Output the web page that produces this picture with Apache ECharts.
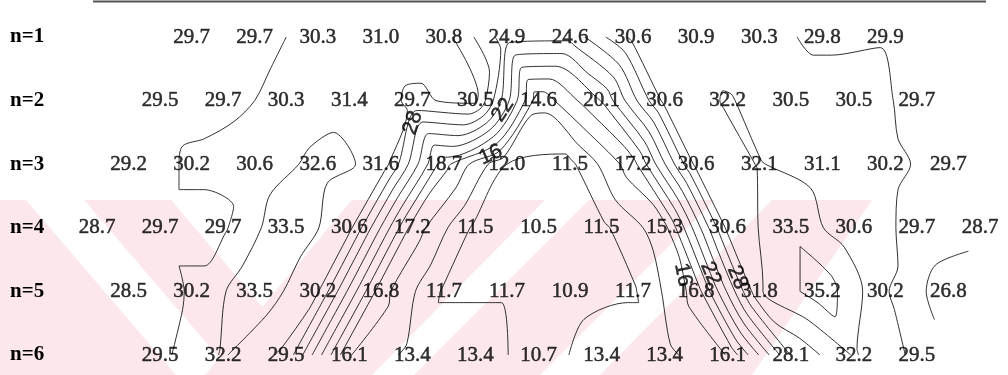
<!DOCTYPE html>
<html>
<head>
<meta charset="utf-8">
<script src="https://cdn.jsdelivr.net/npm/echarts@6.0.0/dist/echarts.min.js"></script>
<style>
  html, body { margin: 0; padding: 0; background: #ffffff; }
  #chart { width: 1008px; height: 375px; }
</style>
</head>
<body>
<div id="chart"></div>
<script>
// Measured values along each row n=1..6, left to right
const row1 = [29.7, 29.7, 30.3, 31.0, 30.8, 24.9, 24.6, 30.6, 30.9, 30.3, 29.8, 29.9];
const row2 = [29.5, 29.7, 30.3, 31.4, 29.7, 30.5, 14.6, 20.1, 30.6, 32.2, 30.5, 30.5, 29.7];
const row3 = [29.2, 30.2, 30.6, 32.6, 31.6, 18.7, 12.0, 11.5, 17.2, 30.6, 32.1, 31.1, 30.2, 29.7];
const row4 = [28.7, 29.7, 29.7, 33.5, 30.6, 17.2, 11.5, 10.5, 11.5, 15.3, 30.6, 33.5, 30.6, 29.7, 28.7];
const row5 = [28.5, 30.2, 33.5, 30.2, 16.8, 11.7, 11.7, 10.9, 11.7, 16.8, 31.8, 35.2, 30.2, 26.8];
const row6 = [29.5, 32.2, 29.5, 16.1, 13.4, 13.4, 10.7, 13.4, 13.4, 16.1, 28.1, 32.2, 29.5];
// Column index of the first value in each row (rows are staggered by half a column)
const rowFirstColumn = [1.5, 1, 0.5, 0, 0.5, 1];
const rowLabels = ['n=1', 'n=2', 'n=3', 'n=4', 'n=5', 'n=6'];
// Contour levels (every 2 units) and the ones carrying a number
const contourLevels = [12, 14, 16, 18, 20, 22, 24, 26, 28, 30, 32, 34];
const labelledLevels = [16, 22, 28];

const rows = [row1, row2, row3, row4, row5, row6];

// ---- sample points in axis units ----
const pts = [];
const rowIdx = [];
rows.forEach((vals, r) => {
  const ids = [];
  vals.forEach((v, i) => {
    ids.push(pts.length);
    pts.push({ x: rowFirstColumn[r] + i, y: r + 1, v: v });
  });
  rowIdx.push(ids);
});

// ---- triangulate the staggered rows strip by strip ----
function strip(U, L) {
  const out = [];
  let i = 0, j = 0;
  while (i < U.length - 1 || j < L.length - 1) {
    let takeU;
    if (i >= U.length - 1) takeU = false;
    else if (j >= L.length - 1) takeU = true;
    else takeU = pts[U[i + 1]].x <= pts[L[j + 1]].x;
    if (takeU) { out.push([U[i], L[j], U[i + 1]]); i++; }
    else { out.push([U[i], L[j], L[j + 1]]); j++; }
  }
  return out;
}
const tris = [];
for (let r = 0; r < rowIdx.length - 1; r++) tris.push(...strip(rowIdx[r], rowIdx[r + 1]));

// ---- marching triangles: polylines of one level ----
function contour(level) {
  const lv = level + 1e-7;
  const segs = [];
  const ptOf = {};
  tris.forEach(t => {
    const cross = [];
    for (let e = 0; e < 3; e++) {
      const a = t[e], b = t[(e + 1) % 3];
      const va = pts[a].v, vb = pts[b].v;
      if ((va >= lv) !== (vb >= lv)) {
        const key = Math.min(a, b) + '_' + Math.max(a, b);
        if (!ptOf[key]) {
          const s = (lv - va) / (vb - va);
          ptOf[key] = [pts[a].x + s * (pts[b].x - pts[a].x), pts[a].y + s * (pts[b].y - pts[a].y)];
        }
        cross.push(key);
      }
    }
    if (cross.length === 2) segs.push(cross);
  });
  const adj = {};
  segs.forEach((s, i) => s.forEach(k => { (adj[k] = adj[k] || []).push(i); }));
  const used = new Array(segs.length).fill(false);
  const lines = [];
  const starts = Object.keys(adj).filter(k => adj[k].length === 1).concat(Object.keys(adj));
  starts.forEach(k0 => {
    let segI = adj[k0].find(i => !used[i]);
    if (segI === undefined) return;
    const keys = [k0];
    let k = k0;
    while (segI !== undefined) {
      used[segI] = true;
      const s = segs[segI];
      const nk = s[0] === k ? s[1] : s[0];
      keys.push(nk);
      k = nk;
      segI = adj[k].find(i => !used[i]);
    }
    lines.push(keys.map(kk => ptOf[kk]));
  });
  return lines;
}

// ---- layout of the plotting area ----
const GRID = { left: 97, top: 37, width: 883, height: 318 };
const X_MIN = 0, X_MAX = 14, Y_MIN = 1, Y_MAX = 6;
const pxPerX = GRID.width / (X_MAX - X_MIN);
const pxPerY = GRID.height / (Y_MAX - Y_MIN);

const series = [];
const contourSets = {};
contourLevels.forEach(level => {
  const lines = contour(level);
  contourSets[level] = lines;
  lines.forEach(line => {
    series.push({
      type: 'line',
      data: line,
      smooth: 0.3,
      symbol: 'none',
      silent: true,
      z: 3,
      lineStyle: { color: '#1a1a1a', width: 0.9 }
    });
  });
});

// Level numbers written along the steep contours on both flanks of the low
function findOnLevel(level, rowY, xFrom, xTo) {
  const lines = contourSets[level] || [];
  for (const line of lines) {
    for (let i = 0; i < line.length - 1; i++) {
      const p = line[i], q = line[i + 1];
      if ((p[1] - rowY) * (q[1] - rowY) <= 0 && p[1] !== q[1]) {
        const s = (rowY - p[1]) / (q[1] - p[1]);
        const x = p[0] + s * (q[0] - p[0]);
        if (x >= xFrom && x <= xTo) {
          const dx = (q[0] - p[0]) * pxPerX;
          const dy = (q[1] - p[1]) * pxPerY;
          let ang = Math.atan2(-dy, dx) * 180 / Math.PI;
          if (ang > 90) ang -= 180;
          if (ang <= -90) ang += 180;
          return { x: x, y: rowY, ang: ang };
        }
      }
    }
  }
  return null;
}
const levelTags = [];
const leftRows = { 28: 2.35, 22: 2.15, 16: 2.85 };
const rightRows = { 16: 4.74, 22: 4.72, 28: 4.78 };
labelledLevels.forEach(level => {
  const a = findOnLevel(level, leftRows[level], 0, 7.5);
  const b = findOnLevel(level, rightRows[level], 7.5, 14);
  [a, b].forEach(p => {
    if (p) levelTags.push({ value: [p.x, p.y, level], label: { rotate: p.ang } });
  });
});
series.push({
  type: 'scatter',
  data: levelTags,
  symbolSize: 0,
  silent: true,
  z: 5,
  label: {
    show: true,
    position: 'inside',
    formatter: p => String(p.value[2]),
    fontFamily: 'Liberation Sans',
    fontSize: 21,
    color: '#000000',
    textBorderColor: '#000000',
    textBorderWidth: 0.5
  }
});

// Value annotations at every sample point
series.push({
  type: 'scatter',
  data: pts.map(p => [p.x, p.y, p.v]),
  symbolSize: 0,
  silent: true,
  z: 6,
  label: {
    show: true,
    position: 'inside',
    formatter: p => p.value[2].toFixed(1),
    fontFamily: 'Liberation Serif',
    fontSize: 21,
    color: '#000000',
    textBorderColor: '#000000',
    textBorderWidth: 0.5
  }
});

const PINK = '#fce8ec';
const option = {
  animation: false,
  backgroundColor: '#ffffff',
  grid: Object.assign({ outerBoundsMode: 'none', containLabel: false }, GRID),
  xAxis: { type: 'value', min: X_MIN, max: X_MAX, show: false },
  yAxis: {
    type: 'value', inverse: true, min: Y_MIN, max: Y_MAX, interval: 1,
    axisLine: { show: false }, axisTick: { show: false }, splitLine: { show: false },
    axisLabel: {
      formatter: v => rowLabels[v - 1] || '',
      align: 'left',
      margin: 87,
      fontFamily: 'Liberation Serif',
      fontWeight: 'bold',
      fontSize: 21,
      color: '#000000'
    }
  },
  graphic: [
    // light pink watermark bands behind the lower rows
    { type: 'polygon', z: 0, silent: true, shape: { points: [[0, 200], [26, 200], [176, 375], [0, 375]] }, style: { fill: PINK } },
    { type: 'polygon', z: 0, silent: true, shape: { points: [[84, 200], [171, 200], [321, 375], [234, 375]] }, style: { fill: PINK } },
    { type: 'polygon', z: 0, silent: true, shape: { points: [[352, 200], [545, 200], [372, 375], [205, 375]] }, style: { fill: PINK } },
    { type: 'polygon', z: 0, silent: true, shape: { points: [[589, 200], [715, 200], [540, 375], [414, 375]] }, style: { fill: PINK } },
    { type: 'polygon', z: 0, silent: true, shape: { points: [[772, 200], [872, 200], [752, 375], [600, 375]] }, style: { fill: PINK } },
    // rule above the table
    { type: 'line', z: 1, silent: true, shape: { x1: 93, y1: 1.5, x2: 986, y2: 1.5 }, style: { stroke: '#555555', lineWidth: 2 } }
  ],
  series: series
};

const chart = echarts.init(document.getElementById('chart'), null, { renderer: 'canvas' });
chart.setOption(option);
</script>
</body>
</html>
